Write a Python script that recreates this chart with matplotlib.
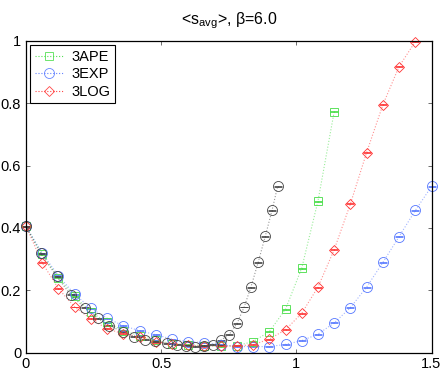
import numpy as np
import matplotlib
matplotlib.use("Agg")
import matplotlib.pyplot as plt
from matplotlib.lines import Line2D

plt.rcParams['font.family'] = ['Liberation Sans', 'DejaVu Sans']
plt.rcParams['mathtext.fontset'] = 'custom'
plt.rcParams['mathtext.rm'] = 'Liberation Sans'

# datos
paso = 0.06
ape = [0.405, 0.315, 0.240, 0.180, 0.130, 0.097, 0.070, 0.054, 0.039, 0.028,
       0.025, 0.022, 0.020, 0.022, 0.035, 0.067, 0.139, 0.271, 0.486, 0.773]
exp_ = [0.405, 0.319, 0.246, 0.187, 0.142, 0.110, 0.086, 0.070, 0.057, 0.043,
        0.035, 0.032, 0.025, 0.019, 0.019, 0.019, 0.026, 0.038, 0.059, 0.095,
        0.144, 0.210, 0.289, 0.372, 0.456, 0.533]
log_ = [0.405, 0.288, 0.205, 0.146, 0.108, 0.076, 0.060, 0.051, 0.033, 0.028,
        0.024, 0.020, 0.021, 0.021, 0.025, 0.043, 0.073, 0.126, 0.210, 0.330,
        0.477, 0.642, 0.795, 0.918, 0.998]
# serie negra (sin leyenda), con x propio
negro_x = [0.0, 0.054, 0.114, 0.165, 0.218, 0.265, 0.307, 0.358, 0.401, 0.440,
           0.477, 0.521, 0.558, 0.592, 0.625, 0.659, 0.691, 0.720, 0.751, 0.781,
           0.807, 0.832, 0.859, 0.885, 0.910, 0.931]
negro_y = [0.405, 0.318, 0.244, 0.185, 0.143, 0.110, 0.086, 0.067, 0.051, 0.041,
           0.036, 0.030, 0.025, 0.022, 0.019, 0.022, 0.025, 0.039, 0.057, 0.094,
           0.146, 0.210, 0.290, 0.373, 0.456, 0.534]
err = 0.0015

xticks = [0, 0.5, 1, 1.5]
xlabels = ["0", "0.5", "1", "1.5"]
yticks = [0, 0.2, 0.4, 0.6, 0.8, 1]
ylabels = ["0", "0.2", "0.4", "0.6", "0.8", "1"]

fig = plt.figure(figsize=(4.47, 3.72), dpi=100)
ax = fig.add_axes([26 / 447, 19.5 / 372, 405.5 / 447, 311.5 / 372])

series = [
    ("3APE", ape, "s", "#44dd44", 5.2),
    ("3EXP", exp_, "o", "#5577ff", 7.2),
    ("3LOG", log_, "D", "#ff3333", 5.6),
]


def dibujar(x, y, m, c, ms):
    ax.plot(x, y, ":", color=c, lw=0.8, alpha=0.55, clip_on=False)
    ax.errorbar(x, y, yerr=err, fmt=m, ls="none", color=c, mfc="none", mec=c,
                ms=ms, mew=0.6, capsize=3.0, elinewidth=0.6, clip_on=False)


handles = []
for nombre, y, m, c, ms in series:
    x = np.arange(len(y)) * paso
    dibujar(x, y, m, c, ms)
    handles.append(Line2D([], [], ls=":", color=c, lw=0.8, alpha=0.9,
                          marker=m, mfc="none", mec=c, ms=ms, mew=0.6,
                          label=nombre))

dibujar(negro_x, negro_y, "o", "#444444", 7.2)

ax.set_xlim(0, 1.5)
ax.set_ylim(0, 1)
ax.set_xticks(xticks)
ax.set_xticklabels(xlabels)
ax.set_yticks(yticks)
ax.set_yticklabels(ylabels)
ax.tick_params(direction="in", length=3, width=0.6, labelsize=10.5,
               top=True, right=True, colors="#555555", labelcolor="black")
for s in ax.spines.values():
    s.set_linewidth(0.9)

ax.set_title(r"<s$_{\mathrm{avg}}$>, β=6.0", fontsize=11.5, pad=12)

leg = ax.legend(handles=handles, loc="upper left", fontsize=10.5,
                frameon=True, fancybox=False, borderaxespad=0.3,
                handlelength=2.0, handletextpad=0.5, borderpad=0.3,
                labelspacing=0.25, framealpha=1)
leg.get_frame().set_edgecolor("black")
leg.get_frame().set_linewidth(0.8)

plt.savefig("out.png", dpi=100)
plt.close()
